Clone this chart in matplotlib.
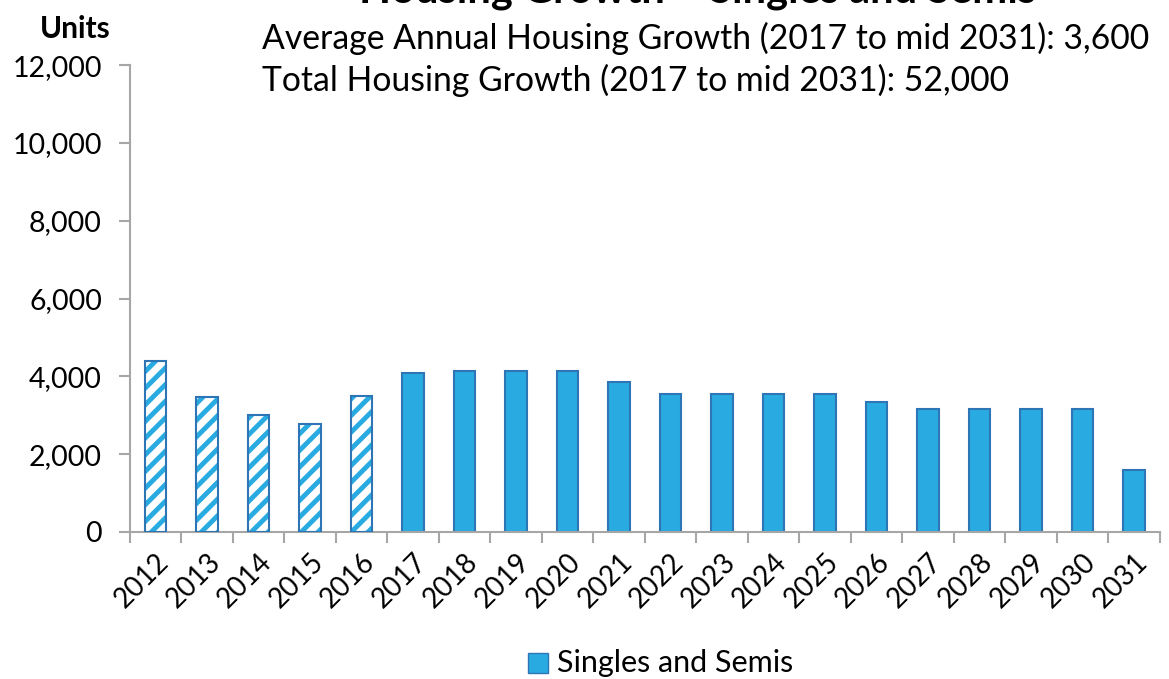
import matplotlib.pyplot as plt
import numpy as np

years = [str(y) for y in range(2012, 2032)]
units = [4400, 3470, 3000, 2780, 3500, 4100, 4150, 4150, 4150, 3850,
         3550, 3550, 3550, 3550, 3350, 3150, 3150, 3150, 3150, 1600]
n_hist = 5  # 2012-2016 are actuals (hatched)

title = 'Housing Growth \u2013 Singles and Semis'
line1 = 'Average Annual Housing Growth (2017 to mid 2031): 3,600'
line2 = 'Total Housing Growth (2017 to mid 2031): 52,000'

plt.rcParams['font.family'] = ['Lato', 'DejaVu Sans']
plt.rcParams['hatch.linewidth'] = 3.5

fill = '#29ABE2'
edge = '#2E75B6'
grey = '#A6A6A6'

fig = plt.figure(figsize=(11.69, 6.79), dpi=100)
ax = fig.add_axes([0.111, 0.2165, 0.881, 0.6875])

x = np.arange(len(years))
for i, v in enumerate(units):
    if i < n_hist:
        # light hatch first, then dark outline on top
        ax.bar(x[i], v, width=0.42, color='white', edgecolor=fill,
               hatch='//', linewidth=0, zorder=2)
        ax.bar(x[i], v, width=0.42, color='none', edgecolor=edge,
               linewidth=1.5, zorder=3)
    else:
        ax.bar(x[i], v, width=0.42, color=fill, edgecolor=edge,
               linewidth=1.5, zorder=2)

ax.set_xlim(-0.5, len(years) - 0.5)
ax.set_ylim(0, 12000)
ax.set_yticks(range(0, 12001, 2000))
ax.set_yticklabels([f'{v:,}' for v in range(0, 12001, 2000)], fontsize=20.5)

# category boundary ticks, labels at centres
ax.set_xticks(np.arange(-0.5, len(years), 1))
ax.set_xticklabels([])
ax.set_xticks(x, minor=True)
ax.set_xticklabels(years, minor=True, rotation=45, ha='right',
                   rotation_mode='anchor', fontsize=20)
ax.tick_params(axis='x', which='minor', length=0, pad=12)
ax.tick_params(axis='x', which='major', length=8, color=grey, width=1.5)
ax.tick_params(axis='y', length=8, color=grey, width=1.5, pad=12)

for s in ['top', 'right']:
    ax.spines[s].set_visible(False)
for s in ['left', 'bottom']:
    ax.spines[s].set_color(grey)
    ax.spines[s].set_linewidth(1.5)

fig.text(0.064, 0.958, 'Units', fontsize=21.5, fontweight='bold',
         ha='center', va='center')
fig.text(0.597, 1.013, title, fontsize=30, fontweight='bold',
         ha='center', va='center')
fig.text(0.224, 0.944, line1, fontsize=24.3, ha='left', va='center')
fig.text(0.224, 0.882, line2, fontsize=24.3, ha='left', va='center')

# legend
fig.patches.append(plt.Rectangle((0.4517, 0.0088), 0.0171, 0.0295,
                                 transform=fig.transFigure,
                                 facecolor=fill, edgecolor=edge, lw=1))
fig.text(0.4765, 0.0236, 'Singles and Semis', fontsize=22,
         ha='left', va='center')

fig.savefig('out.png', dpi=100)
